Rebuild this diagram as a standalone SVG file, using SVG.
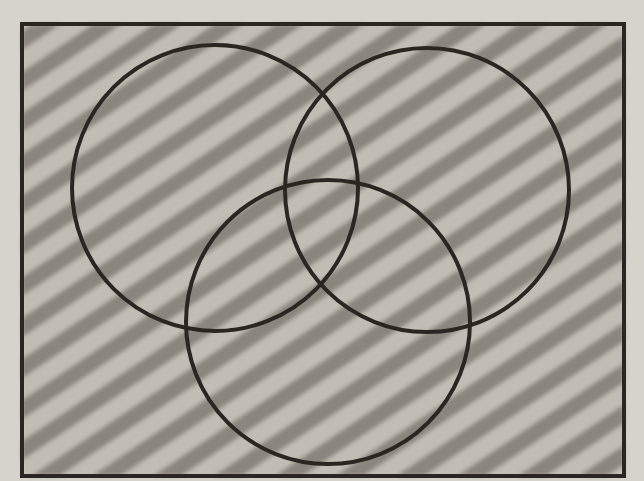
<svg xmlns="http://www.w3.org/2000/svg" width="644" height="481" viewBox="0 0 644 481">
<defs>
<style>
.ln{fill:none;stroke:#2b2621;stroke-width:4}
</style>
<pattern id="hatch" width="34" height="34" patternUnits="userSpaceOnUse" patternTransform="rotate(-34)">
<rect width="34" height="34" fill="#c2bdb4"/>
<rect y="4" width="34" height="16" fill="#8a857d"/>
</pattern>
<filter id="soft"><feGaussianBlur stdDeviation="2"/></filter>
</defs>
<rect width="644" height="481" fill="#d6d3cb"/>
<rect x="22" y="24" width="602" height="452" fill="url(#hatch)" filter="url(#soft)"/>
<g id="frame"><rect class="ln" x="22" y="24" width="602" height="452" stroke-width="5"/></g>
<g id="circleA"><circle class="ln" cx="215" cy="188" r="143"/></g>
<g id="circleB"><circle class="ln" cx="427" cy="190" r="142"/></g>
<g id="circleC"><circle class="ln" cx="328" cy="322" r="142"/></g>
</svg>
